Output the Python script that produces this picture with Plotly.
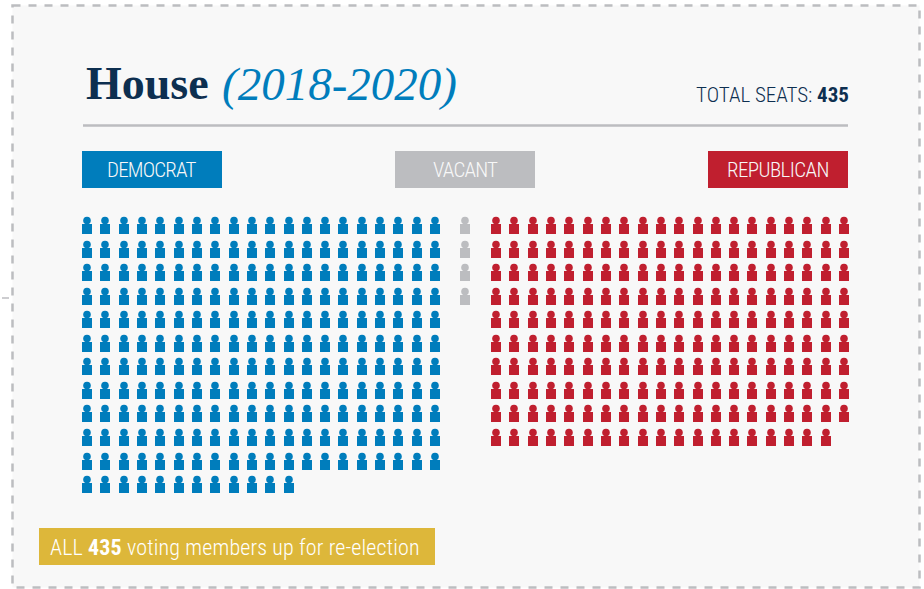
import plotly.graph_objects as go

PARTIES = ["Democrat", "Vacant", "Republican"]
SEATS = [232, 4, 199]
COLORS = ["#007dbc", "#bcbdc0", "#c01f2f"]
COLUMNS = [20, 1, 20]
FIRST_X = [82, 460, 491]
STEP_X = 18.32
FIRST_Y = 224
STEP_Y = 23.55
TITLE = "House"
YEARS = "(2018-2020)"
TOTAL = "435"
NOTE_A = "ALL "
NOTE_B = "435"
NOTE_C = " voting members up for re-election"

NARROW = "Roboto Condensed, Roboto"
SERIF = "Liberation Serif"
NAVY = "#0d2f50"

fig = go.Figure()
for party, seats, color, cols, x0 in zip(PARTIES, SEATS, COLORS, COLUMNS, FIRST_X):
    xs = [round(x0 + (i % cols) * STEP_X) + 5 for i in range(seats)]
    rows = [i // cols for i in range(seats)]
    body_y = [round(FIRST_Y + r * STEP_Y) + 5 for r in rows]
    head_y = [y - 8.4 for y in body_y]
    fig.add_trace(go.Scatter(x=xs, y=body_y, mode="markers", name=party, showlegend=False,
                             marker=dict(symbol="square", size=10, color=color, line_width=0)))
    fig.add_trace(go.Scatter(x=xs, y=head_y, mode="markers", name=party, showlegend=False,
                             marker=dict(symbol="circle", size=7.6, color=color, line_width=0)))

shapes = [
    dict(type="rect", x0=12.5, x1=919.5, y0=5.5, y1=587.5, layer="below",
         fillcolor="#f8f8f8", line=dict(color="#bcbdc0", width=2.5, dash="8px,8px")),
    dict(type="line", x0=2, x1=9, y0=298, y1=298, layer="below", line=dict(color="#bcbdc0", width=1.5)),
    dict(type="line", x0=83, x1=848, y0=125.5, y1=125.5, layer="below", line=dict(color="#bcbdc0", width=2.5)),
]
boxes = [(82, 222, 151, 188, COLORS[0]), (395, 535, 151, 188, COLORS[1]),
         (708, 848, 151, 188, COLORS[2]), (39, 435, 528, 565, "#ddb73a")]
for x0, x1, y0, y1, c in boxes:
    shapes.append(dict(type="rect", x0=x0, x1=x1, y0=y0, y1=y1, layer="below", fillcolor=c, line_width=0))

def note(x, y, text, size, color, family, anchor="center"):
    return dict(x=x, y=y, text=text, showarrow=False, xanchor=anchor, yanchor="middle",
                font=dict(size=size, color=color, family=family))

def narrow(text, spacing=0):
    return f'<span style="font-stretch:condensed;font-weight:350;letter-spacing:{spacing}px">{text}</span>'

annotations = [
    note(84, 83, f"<b>{TITLE}</b>", 46, NAVY, SERIF, "left"),
    note(220, 84, f"<i>{YEARS}</i>", 47, COLORS[0], SERIF, "left"),
    note(851, 95, narrow(f"TOTAL SEATS: <b>{TOTAL}</b>", 0), 21, NAVY, NARROW, "right"),
    note(152, 170, narrow(PARTIES[0].upper(), -0.8), 21, "#f8f8f8", NARROW),
    note(465, 170, narrow(PARTIES[1].upper(), -0.8), 21, "#f8f8f8", NARROW),
    note(778, 170, narrow(PARTIES[2].upper(), -0.6), 21, "#f8f8f8", NARROW),
    note(48, 547, narrow(f"{NOTE_A}<b>{NOTE_B}</b>{NOTE_C}", 0.15), 22, "#ffffff", NARROW, "left"),
]

fig.update_layout(
    width=924, height=589, autosize=False,
    margin=dict(l=0, r=0, t=0, b=0),
    paper_bgcolor="#ffffff", plot_bgcolor="rgba(0,0,0,0)",
    xaxis=dict(range=[0, 924], visible=False, fixedrange=True),
    yaxis=dict(range=[589, 0], visible=False, fixedrange=True),
    shapes=shapes, annotations=annotations,
    hovermode=False,
)
fig.write_html("out.html", config=dict(displayModeBar=False),
               post_script="document.body.style.margin='0';document.body.style.overflow='hidden';")
